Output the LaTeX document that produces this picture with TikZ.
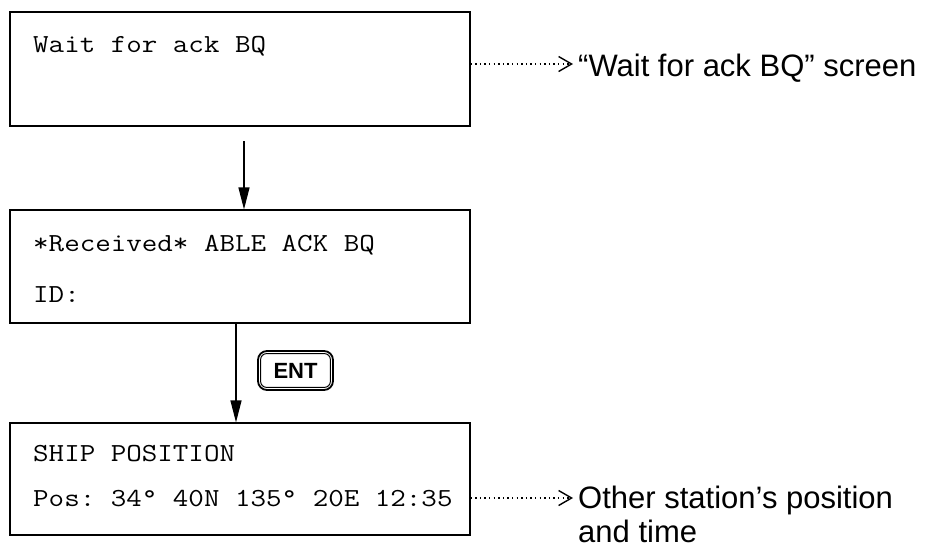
\documentclass[tikz,border=0pt]{standalone}
\usepackage{fontspec}
\setmainfont{Liberation Sans}
\setmonofont[FakeStretch=1.16]{Latin Modern Mono}
\usetikzlibrary{arrows.meta,calc}
\begin{document}
\begin{tikzpicture}[x=1pt,y=-1pt,
  screenbox/.style={draw, line width=1.2pt, rectangle, minimum width=460pt, minimum height=114pt, inner sep=0pt},
  mono/.style={font=\ttfamily\fontsize{26}{30}\selectfont, anchor=base west, inner sep=0pt},
  label/.style={font=\fontsize{31}{34}\selectfont, anchor=base west, inner xsep=5pt, inner ysep=0pt},
  solidarrow/.style={line width=1.2pt, -{Triangle[length=22pt,width=11pt]}},
  dotarrow/.style={line width=1.1pt, dash pattern=on 1.4pt off 3.2pt, -{Straight Barb[length=13pt,width=15pt,line width=1.4pt]}},
  keyouter/.style={draw, line width=1.8pt, rounded corners=9pt, minimum width=75pt, minimum height=39pt, inner sep=0pt, font=\bfseries\fontsize{22}{22}\selectfont}
]
\useasboundingbox (0,0) rectangle (940,547);

% screens
\node[screenbox] (b1) at (240,69) {};
\node[screenbox, minimum height=113pt] (b2) at (240,266.5) {};
\node[screenbox, minimum height=112pt] (b3) at (240,479) {};

% screen texts
\node[mono] (t1) at (33,52) {Wait for ack BQ};
\node[mono] (t2) at (33,251) {*Received* ABLE ACK BQ};
\node[mono] (t3) at (33,302) {ID:};
\node[mono] (t4) at (33,461) {SHIP POSITION};
\node[mono] (t5) at (33,506) {Pos: 34° 40N 135° 20E 12:35};

% flow arrows
\coordinate (a1s) at (244,141);
\draw[solidarrow] (a1s) -- (a1s |- b2.north);
\coordinate (a2x) at (236,0);
\draw[solidarrow] (a2x |- b2.south) -- (a2x |- b3.north);

% ENT key
\node[keyouter] (ent) at (295.5,370.5) {ENT};
\draw[line width=1pt, rounded corners=6pt] ($(ent.south west)+(3.5pt,3.5pt)$) rectangle ($(ent.north east)+(-3.5pt,-3.5pt)$);

% annotations
\node[label] (l1) at (573,76) {“Wait for ack BQ” screen};
\coordinate (d1) at (0,64);
\draw[dotarrow] (b1.east |- d1) -- (l1.west |- d1);

\node[label] (l2) at (573,508) {\begin{tabular}[t]{@{}l@{}}Other station’s position\\and time\end{tabular}};
\coordinate (d2) at (0,498);
\draw[dotarrow] (b3.east |- d2) -- (l2.west |- d2);
\end{tikzpicture}
\end{document}
